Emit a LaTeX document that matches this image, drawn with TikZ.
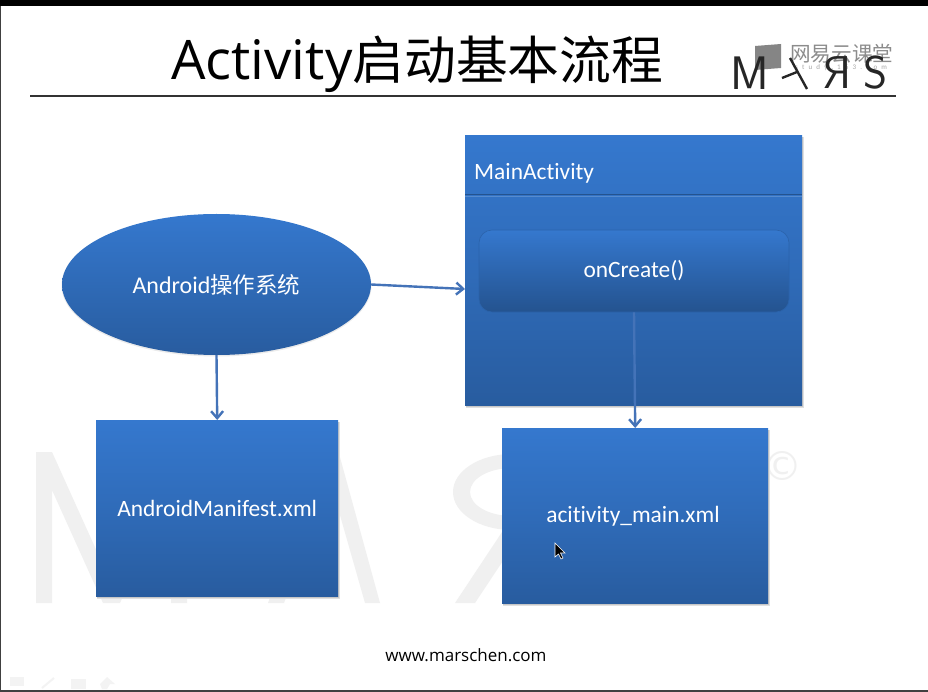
\documentclass[tikz,border=0pt]{standalone}
\usepackage{fontspec}
\setmainfont{Carlito}[Ligatures=NoCommon]
\newfontfamily\cjk{Noto Sans CJK SC}
\newfontfamily\titlefont{Open Sans}
\usetikzlibrary{shapes.geometric,arrows.meta,calc}
\definecolor{boxtop}{HTML}{3578CE}
\definecolor{boxbot}{HTML}{285C9F}
\definecolor{linkc}{HTML}{4473B8}
\definecolor{wm}{HTML}{F0F0F0}
\definecolor{ctl}{HTML}{F3F3F3}
\tikzset{
  body text/.style={text=white,font=\fontsize{23.4}{26}\selectfont},
  blue box/.style={rectangle,inner sep=0pt,anchor=north west,top color=boxtop,bottom color=boxbot,middle color=boxtop!55!boxbot,body text},
  link/.style={draw=linkc,line width=2.4pt,-{Straight Barb[length=7pt,width=12pt,line width=2.4pt]}},
  logo letter/.style={text=black!85,inner sep=0pt,font=\fontsize{46}{46}\selectfont\sffamily},
  faint/.style={fill=ctl,draw=none}
}
\begin{document}
\begin{tikzpicture}[x=1pt,y=-1pt]
\useasboundingbox (0,0) rectangle (928,692);
\fill[white] (0,0) rectangle (928,692);
\fill[black] (0,0) rectangle (928,6);
\fill[black!75] (0,6) rectangle (1,692);
\fill[black!75] (0,690) rectangle (928,692);
% watermark
\fill[wm] (36,603) -- (36,452) -- (52,452) -- (112,585) -- (172,452) -- (187,452) -- (187,603) -- (171,603) -- (171,490) -- (120,603) -- (103,603) -- (52,490) -- (52,603) -- cycle;
\fill[wm] (268,603) -- (326,450) -- (338,450) -- (380,603) -- (365,603) -- (330,480) -- (284,603) -- cycle;
\fill[wm,even odd rule] (512,492) ellipse [x radius=59pt,y radius=38pt] (512,492) ellipse [x radius=42pt,y radius=24pt];
\fill[wm] (455,603) -- (510,520) -- (530,520) -- (475,603) -- cycle;
\node[text=wm,inner sep=0pt,font=\fontsize{40}{40}\selectfont] (wmC) at (782,466) {\fontspec{DejaVu Sans}©};
% title
\node[inner sep=0pt,anchor=base west] (title) at (171,80) {\fontsize{54.5}{60}\selectfont\titlefont Activity\fontsize{51.8}{60}\selectfont\cjk 启动基本流程};
\draw[black!80,line width=1.2pt] (30,96) -- (896,96);
% logo
\fill[black!48] (755,46) -- (781,44) -- (781,68) -- (755,70) -- cycle;
\node[text=black!45,inner sep=0pt,anchor=west,font=\fontsize{20.6}{22}\selectfont] (yun) at (790,54) {\cjk 网易云课堂};
\node[text=black!35,inner sep=0pt,anchor=west,font=\fontsize{7}{7}\selectfont] (stud) at (795,68) {\addfontfeature{LetterSpace=60}study.163.com};
\node[logo letter,anchor=center,font=\fontsize{47}{47}\selectfont\sffamily] (lM) at (750,73) {M};
\draw[black!85,line width=2.4pt] (790,58) -- (807,89);
\draw[black!85,line width=2.4pt] (782,78) -- (797,72);
\node[logo letter,xscale=-1,anchor=center] (lR) at (838,73) {R};
\node[logo letter,anchor=center] (lS) at (875,73) {S};
% shadows
\fill[black!12] (466,137) rectangle (804,408);
\fill[black!22] (466,137) rectangle (803,407);
\fill[black!12] (97,422) rectangle (340,599);
\fill[black!22] (97,422) rectangle (339,598);
\fill[black!12] (503,430) rectangle (770,606);
\fill[black!22] (503,430) rectangle (769,605);
\fill[black!8] (216.5,285.5) ellipse [x radius=155pt,y radius=71pt];
% boxes
\node[ellipse,inner sep=0pt,minimum width=309pt,minimum height=141pt,top color=boxtop,bottom color=boxbot,body text] (os) at (216.5,284.5) {\fontsize{24}{26}\selectfont Android{\cjk\fontsize{22.5}{26}\selectfont 操作系统}};
\node[blue box,minimum width=337pt,minimum height=270pt] (main) at (465,135) {};
\draw[black!10!boxbot,line width=1pt] (main.west |- 0,195) -- (main.east |- 0,195);
\fill[white,opacity=.18] (main.west |- 0,196) rectangle (main.east |- 0,196.8);
\node[body text,inner sep=0pt,anchor=base west] (mainlab) at (474,180) {MainActivity};
\node[rectangle,rounded corners=13pt,inner sep=0pt,minimum width=310pt,minimum height=82pt,top color=boxtop,bottom color=boxbot!90!black,draw=boxbot!75!boxtop,line width=.6pt,body text] (on) at (634,271) {onCreate()};
\node[blue box,minimum width=242pt,minimum height=176pt,align=center] (am) at (96,420) {AndroidManifest.xml};
\node[blue box,minimum width=266pt,minimum height=175pt] (xml) at (502,428) {};
\node[body text,inner sep=0pt] (xmllab) at (633,516) {acitivity\_main.xml};
% connectors
\coordinate (mainin) at (465,289);
\draw[link] (os.east) -- (mainin);
\draw[link] (os.south) -- (am.north);
\draw[link] (on.south) -- (xml.north);
% cursor
\fill[black,draw=white,line width=.6pt] (555,543) -- (555,557) -- (558.5,554) -- (561,559) -- (563,558) -- (560.5,553) -- (565,553) -- cycle;
% footer
\node[inner sep=0pt,font=\fontsize{17}{18}\selectfont,text=black] (web) at (466,655) {\titlefont www.marschen.com};
% faint slideshow controls
\fill[faint] (10,677) rectangle (24,686);
\draw[ctl,line width=2pt] (42,688) -- (54,678);
\fill[faint] (71,679) rectangle (86,689);
\fill[faint] (100,684) -- (107,677) -- (115,684) -- (110,684) -- (107,689) -- (102,689) -- cycle;
\end{tikzpicture}
\end{document}
